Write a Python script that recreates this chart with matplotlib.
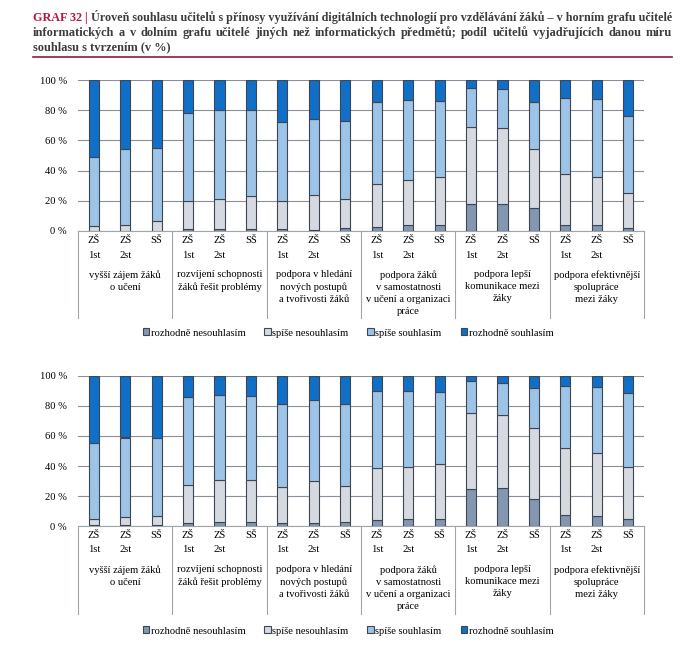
import numpy as np
import matplotlib
matplotlib.use("Agg")
import matplotlib.pyplot as plt
from matplotlib.patches import Patch

plt.rcParams['font.family'] = ['Liberation Serif', 'DejaVu Serif']

groups = ["vyšší zájem žáků\no učení",
          "rozvíjení schopnosti\nžáků řešit problémy",
          "podpora v hledání\nnových postupů\na tvořivosti žáků",
          "podpora žáků\nv samostatnosti\nv učení a organizaci\npráce",
          "podpora lepší\nkomunikace mezi\nžáky",
          "podpora efektivnější\nspolupráce\nmezi žáky"]
levels = ["ZŠ\n1st", "ZŠ\n2st", "SŠ"]
series = ["rozhodně nesouhlasím", "spíše nesouhlasím", "spíše souhlasím", "rozhodně souhlasím"]
colors = ["#8496b0", "#d6dae0", "#9dc3e6", "#1070c8"]

# cumulative tops (%) of first three segments, per bar (group x level)
top_cum = {
    "dis_strong": [0.3, 0.2, 0.2, 1.5, 1.5, 1.5, 1.0, 0.8, 2.0,
                   2.7, 3.8, 4.0, 18.1, 17.7, 15.0, 4.0, 3.8, 2.0],
    "dis": [3.3, 4.2, 6.6, 19.7, 21.0, 23.5, 19.9, 23.7, 21.0,
            31.4, 33.6, 35.8, 68.6, 67.9, 54.4, 38.0, 35.8, 25.4],
    "agr": [48.7, 54.4, 54.9, 78.3, 80.1, 79.9, 71.9, 73.9, 73.0,
            85.2, 86.7, 86.3, 94.5, 94.2, 85.6, 88.3, 87.6, 76.3],
}
bot_cum = {
    "dis_strong": [0.5, 0.5, 0.5, 2.2, 2.7, 2.9, 2.0, 2.0, 2.7,
                   4.0, 4.7, 4.9, 24.6, 25.1, 18.0, 7.3, 6.7, 4.9],
    "dis": [4.7, 6.0, 6.4, 27.3, 30.8, 31.0, 26.2, 29.7, 26.6,
            38.6, 39.5, 41.2, 75.6, 74.1, 65.2, 52.3, 48.6, 39.5],
    "agr": [55.0, 59.0, 58.5, 86.3, 87.1, 86.5, 81.2, 83.8, 81.6,
            89.8, 89.8, 89.6, 96.7, 95.3, 92.2, 93.1, 92.9, 88.5],
}

W, H = 695, 650
fig = plt.figure(figsize=(W / 100, H / 100), dpi=100)
FS = 7.6

def to_segments(cum):
    a = np.array(cum["dis_strong"])
    b = np.array(cum["dis"])
    c = np.array(cum["agr"])
    return [a, b - a, c - b, 100 - c]

def draw_panel(ax, cum, line_ext):
    segs = to_segments(cum)
    n = len(segs[0])
    x = np.arange(n)
    bottom = np.zeros(n)
    for vals, col in zip(segs, colors):
        ax.bar(x, vals, bottom=bottom, width=0.32, color=col,
               edgecolor="#3e4654", linewidth=0.8, zorder=3)
        bottom += vals
    ax.set_xlim(-0.5, n - 0.5)
    ax.set_ylim(0, 100)
    ax.set_yticks(np.arange(0, 101, 20))
    ax.set_yticklabels([f"{v} %" for v in range(0, 101, 20)], fontsize=FS)
    ax.yaxis.grid(True, color="#8a8f99", linewidth=0.8, zorder=0)
    ax.tick_params(axis="y", length=0, pad=8)
    ax.set_xticks([])
    for s in ["left", "right", "top"]:
        ax.spines[s].set_visible(False)
    ax.spines["bottom"].set_color("#a0a4ab")
    ax.spines["bottom"].set_linewidth(0.8)
    # separators below the axis
    for k in range(len(groups) + 1):
        xs = k * 3 - 0.5
        ax.plot([xs, xs], [0, line_ext], transform=ax.get_xaxis_transform(),
                color="#a0a4ab", lw=0.8, clip_on=False)
    tr = ax.get_xaxis_transform()
    for i in range(n):
        ax.text(i, -0.035, levels[i % 3], transform=tr, ha="center", va="top",
                fontsize=FS, linespacing=1.75)
    for g, name in enumerate(groups):
        ax.text(g * 3 + 1, -0.26, name, transform=tr, ha="center", va="top",
                fontsize=FS, linespacing=1.42)

ax1 = fig.add_axes([78 / W, 1 - 231 / H, 566 / W, 151 / H])
draw_panel(ax1, top_cum, -0.576)
ax2 = fig.add_axes([78 / W, 1 - 526 / H, 566 / W, 150 / H])
draw_panel(ax2, bot_cum, -0.585)

handles = [Patch(facecolor=c, edgecolor="#3e4654", linewidth=0.8) for c in colors]
for yc in [333, 631]:
    fig.legend(handles, series, loc="center", bbox_to_anchor=(348 / W, 1 - yc / H),
               ncol=4, frameon=False, fontsize=FS, handlelength=0.6,
               handleheight=0.6, handletextpad=0.15, columnspacing=1.8)

# title
graf_lbl = "GRAF 32 | "
title_lines = [
    "Úroveň souhlasu učitelů s přínosy využívání digitálních technologií pro vzdělávání žáků – v horním grafu učitelé",
    "informatických a v dolním grafu učitelé jiných než informatických předmětů; podíl učitelů vyjadřujících danou míru",
    "souhlasu s tvrzením (v %)",
]
x0, x1 = 33, 672
TFS = 8.9
renderer = fig.canvas.get_renderer()

def txt_width(s, fs):
    t = fig.text(0.5, 0.5, s, fontsize=fs, fontweight="bold", va="baseline")
    w = t.get_window_extent(renderer).width
    t.remove()
    return w

# line 1: scale font a bit so the line fills the column
w1 = txt_width(graf_lbl + title_lines[0], TFS)
fs1 = TFS * (x1 - x0) / w1
wg = txt_width(graf_lbl, fs1)
y1 = 1 - 21.5 / H
fig.text(x0 / W, y1, graf_lbl, fontsize=fs1, fontweight="bold", color="#b8163f", va="baseline")
fig.text((x0 + wg) / W, y1, title_lines[0], fontsize=fs1, fontweight="bold",
         color="#3c3c3c", va="baseline")

# line 2: justified word by word
words = title_lines[1].split(" ")
widths = [txt_width(w, TFS) for w in words]
gap = (x1 - x0 - sum(widths)) / (len(words) - 1)
xp = x0
y2 = 1 - 36 / H
for w, wd in zip(words, widths):
    fig.text(xp / W, y2, w, fontsize=TFS, fontweight="bold", color="#3c3c3c", va="baseline")
    xp += wd + gap

fig.text(x0 / W, 1 - 50.5 / H, title_lines[2], fontsize=TFS, fontweight="bold",
         color="#3c3c3c", va="baseline")

fig.add_artist(plt.Line2D([x0 / W, x1 / W], [1 - 57 / H, 1 - 57 / H],
                          color="#8e1b42", lw=1.2))

fig.savefig("out.png", dpi=100)
